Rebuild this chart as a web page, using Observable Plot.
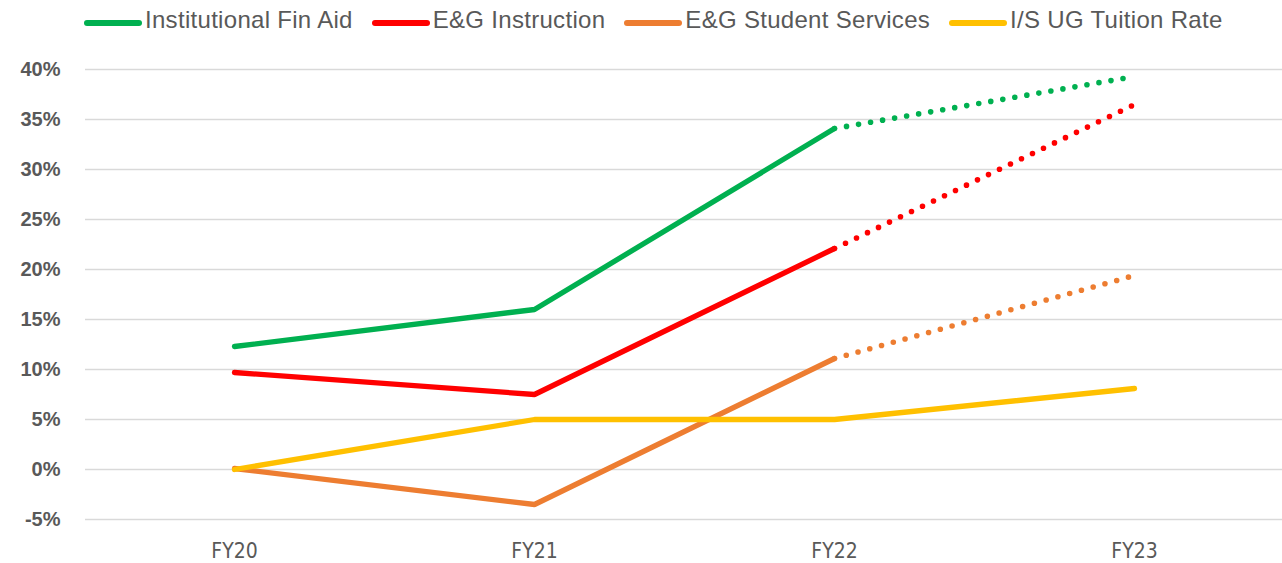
<!DOCTYPE html>
<html>
<head>
<meta charset="utf-8">
<script src="https://cdn.jsdelivr.net/npm/d3@7"></script>
<script src="https://cdn.jsdelivr.net/npm/@observablehq/plot@0.6"></script>
<style>
  body { margin: 0; background: #fff; font-family: "Liberation Sans", Arial, sans-serif; }
  #legend { position: relative; height: 40px; width: 1282px; display: flex; align-items: flex-start; padding-left: 84px; box-sizing: border-box; }
  .item { display: flex; align-items: flex-start; margin-top: 8px; margin-right: 19px; }
  .sw { width: 58px; height: 6px; border-radius: 3px; margin-top: 11.5px; margin-right: 3px; }
  .lab { font-size: 24px; line-height: 24px; letter-spacing: 0.3px; color: #595959; white-space: nowrap; }
  #chart svg { display: block; }
</style>
</head>
<body>
<div id="legend"></div>
<div id="chart"></div>
<script>
// ---- data ----
const years = ["FY20", "FY21", "FY22", "FY23"];
const seriesNames = ["Institutional Fin Aid", "E&G Instruction", "E&G Student Services", "I/S UG Tuition Rate"];
const finAid          = [12.3, 16.0, 34.1, 39.3];
const instruction     = [9.7, 7.5, 22.1, 36.5];
const studentServices = [0.1, -3.5, 11.1, 19.4];
const tuitionRate     = [0.0, 5.0, 5.0, 8.1];
const projectedSeries = [true, true, true, false]; // last year shown as dotted (projection)
const yTicks = [-5, 0, 5, 10, 15, 20, 25, 30, 35, 40];

// ---- styles ----
const colors = ["#00B050", "#FF0000", "#ED7D31", "#FFC000"];
const seriesValues = [finAid, instruction, studentServices, tuitionRate];
const lastActual = 2; // index of FY22

const solidRows = [];
const dottedRows = [];
seriesNames.forEach((name, i) => {
  years.forEach((yr, j) => {
    const row = {series: name, year: yr, value: seriesValues[i][j]};
    if (!projectedSeries[i] || j <= lastActual) solidRows.push(row);
    if (projectedSeries[i] && j >= lastActual) dottedRows.push(row);
  });
});

// legend
const legend = document.getElementById("legend");
seriesNames.forEach((name, i) => {
  const it = document.createElement("div");
  it.className = "item";
  const sw = document.createElement("div");
  sw.className = "sw";
  sw.style.background = colors[i];
  const lab = document.createElement("div");
  lab.className = "lab";
  lab.textContent = name;
  it.appendChild(sw); it.appendChild(lab);
  legend.appendChild(it);
});

const chart = Plot.plot({
  width: 1282,
  height: 523,
  marginLeft: 85,
  marginRight: 0,
  marginTop: 29,
  marginBottom: 44,
  x: {type: "point", domain: years, padding: 0.495, label: null},
  y: {domain: [-5, 40], label: null},
  color: {domain: seriesNames, range: colors},
  marks: [
    Plot.ruleY(yTicks, {stroke: "#D9D9D9", strokeWidth: 1.5}),
    Plot.lineY(solidRows, {x: "year", y: "value", z: "series", stroke: "series", strokeWidth: 5.3, strokeLinecap: "round", strokeLinejoin: "miter"}),
    Plot.lineY(dottedRows, {x: "year", y: "value", z: "series", stroke: "series", strokeWidth: 5.6, strokeLinecap: "round", strokeDasharray: "0 12.2"}),
    Plot.axisY(yTicks, {tickSize: 0, tickPadding: 25, tickFormat: d => d + "%", fontSize: 20, fontWeight: "bold", fill: "#595959", fontFamily: "Liberation Sans, Arial, sans-serif", label: null}),
    Plot.axisX({tickSize: 0, tickPadding: 24, fontSize: 21, fill: "#595959", fontFamily: "Liberation Sans Narrow, DejaVu Sans Condensed, Liberation Sans, sans-serif", label: null})
  ]
});
document.getElementById("chart").appendChild(chart);
</script>
</body>
</html>
